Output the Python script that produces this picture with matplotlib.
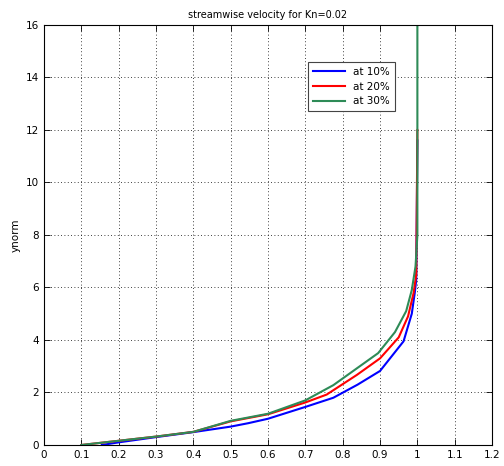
import matplotlib
matplotlib.use("Agg")
import matplotlib.pyplot as plt

# streamwise velocity profiles (u/U vs ynorm)
u_10 = [0.155, 0.2, 0.3, 0.4, 0.5, 0.547, 0.6, 0.7, 0.775, 0.84, 0.9, 0.963, 0.985, 0.993, 0.997, 1.0]
y_10 = [0.0, 0.1, 0.3, 0.49, 0.7, 0.83, 1.0, 1.45, 1.8, 2.3, 2.82, 3.95, 5.0, 5.8, 6.3, 11.6]

u_20 = [0.1, 0.2, 0.3, 0.4, 0.5, 0.6, 0.7, 0.757, 0.838, 0.9, 0.95, 0.975, 0.99, 0.997, 1.0]
y_20 = [0.0, 0.16, 0.32, 0.5, 0.9, 1.17, 1.62, 1.92, 2.67, 3.3, 4.1, 4.9, 5.8, 6.5, 12.0]

u_30 = [0.1, 0.2, 0.3, 0.4, 0.5, 0.6, 0.7, 0.775, 0.895, 0.94, 0.97, 0.985, 0.995, 0.998, 1.0, 1.0]
y_30 = [0.0, 0.16, 0.32, 0.5, 0.92, 1.19, 1.7, 2.28, 3.5, 4.3, 5.1, 5.9, 6.8, 7.5, 8.0, 16.2]

labels = ["at 10%", "at 20%", "at 30%"]
colors = ["#0000ff", "#ff0000", "#2e8b57"]

fig = plt.figure(figsize=(5.04, 4.66), dpi=100)
ax = fig.add_axes([0.0873, 0.0451, 0.889, 0.9013])

for (u, y), lab, c in zip([(u_10, y_10), (u_20, y_20), (u_30, y_30)], labels, colors):
    ax.plot(u, y, color=c, linewidth=1.5, label=lab)

ax.set_xlim(0, 1.2)
ax.set_ylim(0, 16)
ax.set_xticks([i / 10 for i in range(13)])
ax.set_xticklabels(["0", "0.1", "0.2", "0.3", "0.4", "0.5", "0.6", "0.7", "0.8", "0.9", "1", "1.1", "1.2"])
ax.set_yticks(range(0, 17, 2))
ax.tick_params(direction="in", top=True, right=True, labelsize=7.5, length=4, width=0.6)
ax.grid(True, color="black", linestyle=(0, (1, 3)), linewidth=0.6)
for s in ax.spines.values():
    s.set_linewidth(0.8)

ax.set_title("streamwise velocity for Kn=0.02", fontsize=7, pad=5)
ax.set_ylabel("ynorm", fontsize=7.5, labelpad=4)

leg = ax.legend(loc="upper left", bbox_to_anchor=(0.578, 0.925), fontsize=7.5,
                fancybox=False, framealpha=1, edgecolor="#444444",
                handlelength=3.0, borderpad=0.5, labelspacing=0.45)
leg.get_frame().set_linewidth(0.8)

fig.savefig("out.png", dpi=100)
